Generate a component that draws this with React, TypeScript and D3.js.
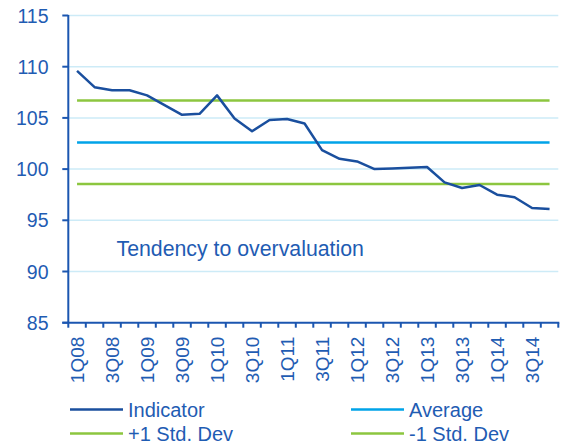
import React from 'react';
import * as d3 from 'd3';

// Quarterly categories
const quarters = [
  '1Q08', '2Q08', '3Q08', '4Q08',
  '1Q09', '2Q09', '3Q09', '4Q09',
  '1Q10', '2Q10', '3Q10', '4Q10',
  '1Q11', '2Q11', '3Q11', '4Q11',
  '1Q12', '2Q12', '3Q12', '4Q12',
  '1Q13', '2Q13', '3Q13', '4Q13',
  '1Q14', '2Q14', '3Q14', '4Q14',
];

// Indicator values
const indicator = [
  109.6, 108.0, 107.7, 107.7,
  107.2, 106.25, 105.3, 105.4,
  107.2, 104.95, 103.7, 104.8,
  104.9, 104.45, 101.85, 101.0,
  100.75, 100.0, 100.07, 100.13,
  100.2, 98.7, 98.15, 98.45,
  97.5, 97.25, 96.2, 96.1,
];

const average = 102.6;
const plusStd = 106.7;
const minusStd = 98.55;

const yTicks = [85, 90, 95, 100, 105, 110, 115];

const W = 570;
const H = 445;
const FONT = '"Liberation Sans", Arial, sans-serif';
const TEXT = '#1f5cb3';
const AXIS = '#1b56b0';
const GRID = '#cdebf7';
const C_IND = '#1a4f9e';
const C_AVG = '#00a3e8';
const C_STD = '#8cc63f';

export default function App() {
  const left = 68.3;
  const right = 558.3;
  const top = 15.5;
  const bottom = 322.7;

  const x = d3.scaleBand<string>().domain(quarters).range([left, right]).padding(0);
  const y = d3.scaleLinear().domain([85, 115]).range([bottom, top]);
  const cx = (q: string) => (x(q) as number) + x.bandwidth() / 2;

  const line = d3
    .line<number>()
    .x((_, i) => cx(quarters[i]))
    .y((d) => y(d));

  const x0 = cx(quarters[0]);
  const x1 = cx(quarters[quarters.length - 1]);

  const refLines = [
    { v: plusStd, c: C_STD },
    { v: average, c: C_AVG },
    { v: minusStd, c: C_STD },
  ];

  const legend = [
    { name: 'Indicator', color: C_IND, lx: 70, ly: 409.5 },
    { name: 'Average', color: C_AVG, lx: 351, ly: 409.5 },
    { name: '+1 Std. Dev', color: C_STD, lx: 70, ly: 433.5 },
    { name: '-1 Std. Dev', color: C_STD, lx: 351, ly: 433.5 },
  ];

  const boundaries = quarters.map((q) => x(q) as number).concat([right]);

  return (
    <svg
      width={W}
      height={H}
      style={{ position: 'absolute', left: 0, top: 0, background: '#fff' }}
      fontFamily={FONT}
    >
      {/* gridlines */}
      {yTicks.filter((t) => t !== 85).map((t) => (
        <line key={t} x1={left} x2={right} y1={y(t)} y2={y(t)} stroke={GRID} strokeWidth={1.5} />
      ))}

      {/* reference lines */}
      {refLines.map((r, i) => (
        <line key={i} x1={x0} x2={x1} y1={y(r.v)} y2={y(r.v)} stroke={r.c} strokeWidth={2.5} />
      ))}

      {/* indicator */}
      <path d={line(indicator) || ''} fill="none" stroke={C_IND} strokeWidth={2.5} strokeLinejoin="round" />

      {/* y axis */}
      <line x1={left} x2={left} y1={top - 0.5} y2={bottom} stroke={AXIS} strokeWidth={2} />
      {yTicks.map((t) => (
        <g key={t}>
          <line x1={left - 6} x2={left} y1={y(t)} y2={y(t)} stroke={AXIS} strokeWidth={2} />
          <text x={48.5} y={y(t) + 7} textAnchor="end" fontSize={19.5} fill={TEXT}>
            {t}
          </text>
        </g>
      ))}

      {/* x axis */}
      <line x1={left - 6} x2={right + 1} y1={bottom} y2={bottom} stroke={AXIS} strokeWidth={2} />
      {boundaries.map((b, i) => (
        <line key={i} x1={b} x2={b} y1={bottom} y2={bottom + 5} stroke={AXIS} strokeWidth={2} />
      ))}
      {quarters.map((q, i) =>
        i % 2 === 0 ? (
          <text
            key={q}
            transform={`translate(${cx(q) + 7},${bottom + 14}) rotate(-90)`}
            textAnchor="end"
            fontSize={19}
            fill={TEXT}
          >
            {q}
          </text>
        ) : null
      )}

      {/* annotation */}
      <text x={116.5} y={255.5} fontSize={21.3} fill={TEXT}>
        Tendency to overvaluation
      </text>

      {/* legend */}
      {legend.map((l) => (
        <g key={l.name}>
          <line x1={l.lx} x2={l.lx + 53} y1={l.ly} y2={l.ly} stroke={l.color} strokeWidth={2.5} />
          <text x={l.lx + 58} y={l.ly + 7.3} fontSize={20} fill={TEXT}>
            {l.name}
          </text>
        </g>
      ))}
    </svg>
  );
}
